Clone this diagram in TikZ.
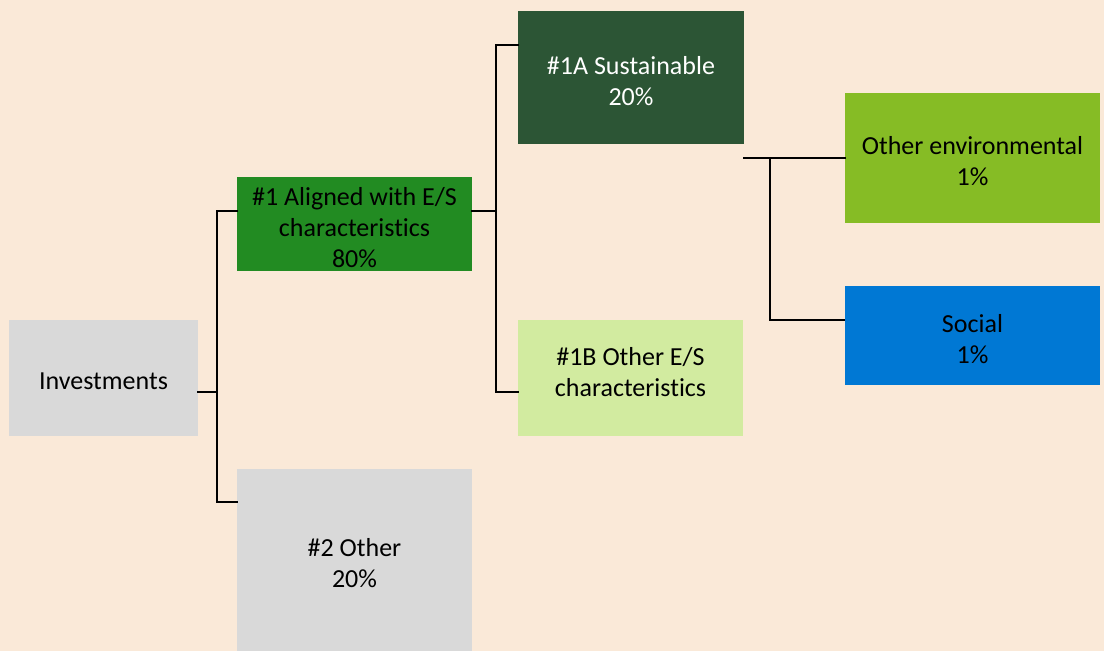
\documentclass[tikz,border=0pt]{standalone}
\usepackage{fontspec}
\setmainfont[Ligatures=NoCommon]{Carlito}
\definecolor{bg}{HTML}{FAE9D8}
\definecolor{boxgray}{HTML}{D9D9D9}
\definecolor{aligned}{HTML}{228B22}
\definecolor{sustain}{HTML}{2C5535}
\definecolor{otheres}{HTML}{D2EBA0}
\definecolor{envgreen}{HTML}{86BC25}
\definecolor{socblue}{HTML}{0078D4}
\begin{document}
\begin{tikzpicture}[x=1pt,y=-1pt,
  box/.style={draw=none,inner sep=0pt},
  txt/.style={inner sep=0pt,align=center,font=\fontsize{26}{31}\selectfont,yshift=-3.5pt},
  conn/.style={line width=1.6pt,line cap=rect},
  thinconn/.style={line width=1.1pt}]
\fill[bg] (0,0) rectangle (1104,651);
\useasboundingbox (0,0) rectangle (1104,651);
\node[box,fill=boxgray,minimum width=189pt,minimum height=116pt] (inv) at (103.5,378) {};
\node[box,fill=aligned,minimum width=235pt,minimum height=94pt] (al) at (354.5,224) {};
\node[box,fill=boxgray,minimum width=235pt,minimum height=182pt] (oth) at (354.5,560) {};
\node[box,fill=sustain,minimum width=226pt,minimum height=133pt] (sa) at (631,77.5) {};
\node[box,fill=otheres,minimum width=225pt,minimum height=116pt] (sb) at (630.5,378) {};
\node[box,fill=envgreen,minimum width=255pt,minimum height=130pt] (env) at (972.5,158) {};
\node[box,fill=socblue,minimum width=255pt,minimum height=99pt] (soc) at (972.5,335.5) {};
\node[txt] (inv-t) at (inv.center) {Investments};
\node[txt] (al-t) at (al.center) {\#1 Aligned with E/S\\characteristics\\80\%};
\node[txt] (oth-t) at (oth.center) {\#2 Other\\20\%};
\node[txt,text=white] (sa-t) at (sa.center) {\#1A Sustainable\\20\%};
\node[txt,yshift=9.5pt] (sb-t) at (sb.center) {\#1B Other E/S\\characteristics};
\node[txt] (env-t) at (env.center) {Other environmental\\1\%};
\node[txt] (soc-t) at (soc.center) {Social\\1\%};
\coordinate (j1) at (217,392);
\coordinate (j2) at (496,211);
\coordinate (j3) at (770,158);
\draw[conn] ([yshift=-14pt]inv.east) -- (j1);
\draw[conn] ([yshift=13pt]al.west) -| (j1) |- ([yshift=58pt]oth.west);
\draw[conn] ([yshift=13pt]al.east) -- (j2);
\draw[conn] ([yshift=32.5pt]sa.west) -| (j2) |- ([yshift=-14pt]sb.west);
\draw[conn] ([yshift=-80.5pt]sa.east) -- (env.west);
\draw[conn] (j3) -- (j3 |- 0,320);
\draw[thinconn] (j3 |- 0,320) -- ([yshift=15.5pt]soc.west);
\end{tikzpicture}
\end{document}
